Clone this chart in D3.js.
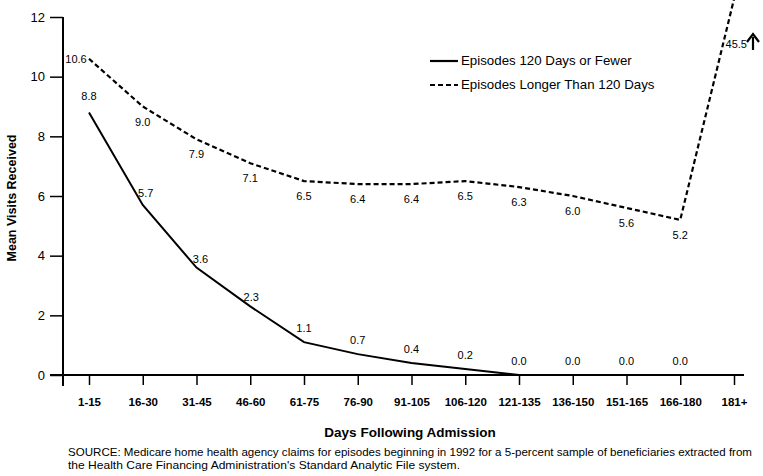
<!DOCTYPE html>
<html><head><meta charset="utf-8">
<script src="https://cdn.jsdelivr.net/npm/d3@7"></script>
<style>body{margin:0;background:#fff;} text{font-family:"Liberation Sans",Arial,Helvetica,sans-serif;fill:#000;}</style>
</head><body><svg id="c" width="763" height="476"></svg>
<script>
const categories = ["1-15","16-30","31-45","46-60","61-75","76-90","91-105","106-120","121-135","136-150","151-165","166-180","181+"];
const shortValues = [8.8,5.7,3.6,2.3,1.1,0.7,0.4,0.2,0.0,0.0,0.0,0.0,0.0];
const shortLabels = ["8.8","5.7","3.6","2.3","1.1","0.7","0.4","0.2","0.0","0.0","0.0","0.0",""];
const longValues = [10.6,9.0,7.9,7.1,6.5,6.4,6.4,6.5,6.3,6.0,5.6,5.2,45.5];
const longLabels = ["10.6","9.0","7.9","7.1","6.5","6.4","6.4","6.5","6.3","6.0","5.6","5.2","45.5"];
const yTicks = [0,2,4,6,8,10,12];
const displayCap = 12.6;

const svg = d3.select("#c");
const x = d3.scalePoint().domain(categories).range([89,734]);
const y = d3.scaleLinear().domain([0,12]).range([375,17]);

// y axis
const yAxis = svg.append("g").attr("transform","translate(63,0)")
  .call(d3.axisLeft(y).tickValues(yTicks).tickSize(13).tickPadding(5).tickFormat(d3.format("d")));
yAxis.select(".domain").remove();
yAxis.selectAll("line").attr("stroke","#000").attr("stroke-width",1.5);
yAxis.selectAll("text").attr("font-size",13).style("font-family","'Liberation Sans',Arial,sans-serif");
svg.append("line").attr("x1",63).attr("x2",63).attr("y1",17).attr("y2",386).attr("stroke","#000").attr("stroke-width",2);

// x axis
const xAxis = svg.append("g").attr("transform","translate(0,375)")
  .call(d3.axisBottom(x).tickSize(10).tickPadding(13));
xAxis.select(".domain").remove();
xAxis.selectAll("line").attr("stroke","#000").attr("stroke-width",1.5);
xAxis.selectAll("text").attr("font-size",11.5).attr("font-weight","bold").style("font-family","'Liberation Sans',Arial,sans-serif");
svg.append("line").attr("x1",50).attr("x2",744).attr("y1",375).attr("y2",375).attr("stroke","#000").attr("stroke-width",2);

// clip
svg.append("clipPath").attr("id","clip").append("rect").attr("x",0).attr("y",0).attr("width",763).attr("height",380);

const line = d3.line().x((d,i)=>x(categories[i])).y(d=>y(Math.min(d,displayCap)));

svg.append("path").attr("clip-path","url(#clip)").datum(shortValues).attr("d",line)
  .attr("fill","none").attr("stroke","#000").attr("stroke-width",2);
svg.append("path").attr("clip-path","url(#clip)").datum(longValues).attr("d",line)
  .attr("fill","none").attr("stroke","#000").attr("stroke-width",2.2).attr("stroke-dasharray","5,3");

// labels
const lbl = svg.append("g").attr("font-size",11);
shortValues.forEach((v,i)=>{
  if(!shortLabels[i]) return;
  let dx = 0, dy = -10;
  if(i===0){dy=-12;}
  if(i===1){dx=3;dy=-8;}
  if(i===2){dx=4;dy=-5;}
  if(i===3){dx=1;dy=-5;}
  lbl.append("text").attr("x",x(categories[i])+dx).attr("y",y(v)+dy).attr("text-anchor","middle").text(shortLabels[i]);
});
longValues.forEach((v,i)=>{
  if(i===12){
    lbl.append("text").attr("x",747).attr("y",48).attr("text-anchor","end").text(longLabels[i]);
    return;
  }
  if(i===0){
    lbl.append("text").attr("x",x(categories[i])-13).attr("y",y(v)+4).attr("text-anchor","middle").text(longLabels[i]);
    return;
  }
  lbl.append("text").attr("x",x(categories[i])).attr("y",y(v)+19).attr("text-anchor","middle").text(longLabels[i]);
});
// up arrow
svg.append("line").attr("x1",753).attr("x2",753).attr("y1",50).attr("y2",37).attr("stroke","#000").attr("stroke-width",2.2);
svg.append("path").attr("d","M747,42 L753,34 L759,42").attr("fill","none").attr("stroke","#000").attr("stroke-width",2.2);

// legend
const leg = svg.append("g");
leg.append("line").attr("x1",430).attr("x2",458).attr("y1",61).attr("y2",61).attr("stroke","#000").attr("stroke-width",2.2);
leg.append("text").attr("x",461).attr("y",65).attr("font-size",13.3).text("Episodes 120 Days or Fewer");
leg.append("line").attr("x1",430).attr("x2",458).attr("y1",85).attr("y2",85).attr("stroke","#000").attr("stroke-width",2.2).attr("stroke-dasharray","5,3");
leg.append("text").attr("x",461).attr("y",89).attr("font-size",13.3).text("Episodes Longer Than 120 Days");

// titles
svg.append("text").attr("transform","translate(16,198) rotate(-90)").attr("text-anchor","middle")
  .attr("font-size",12.5).attr("font-weight","bold").text("Mean Visits Received");
svg.append("text").attr("x",410).attr("y",437).attr("text-anchor","middle").attr("font-size",13.5).attr("font-weight","bold").text("Days Following Admission");
svg.append("text").attr("x",68).attr("y",456).attr("font-size",10.5).attr("textLength",684).attr("lengthAdjust","spacingAndGlyphs").text("SOURCE: Medicare home health agency claims for episodes beginning in 1992 for a 5-percent sample of beneficiaries extracted from");
svg.append("text").attr("x",68).attr("y",469).attr("font-size",10.5).attr("textLength",392).attr("lengthAdjust","spacingAndGlyphs").text("the Health Care Financing Administration's Standard Analytic File system.");
</script></body></html>
